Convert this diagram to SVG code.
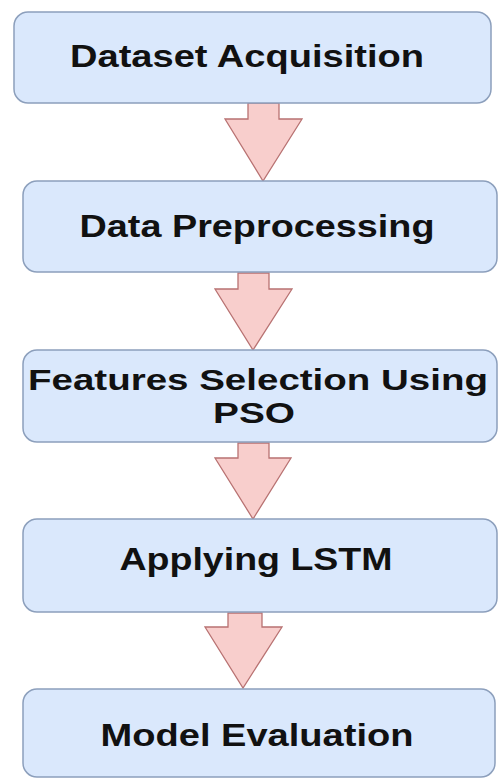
<svg xmlns="http://www.w3.org/2000/svg" width="499" height="779" viewBox="0 0 499 779">
<style>
.box{fill:#dae8fc;stroke:#8c9fbc;stroke-width:1.5}
.arr{fill:#f8cecc;stroke:#b87272;stroke-width:1.3;stroke-linejoin:miter}
.t{font-family:"Liberation Sans",Arial,sans-serif;font-weight:bold;font-size:32px;fill:#111;text-anchor:middle}
.s{font-size:30px}
</style>
<rect width="499" height="779" fill="#ffffff"/>
<g id="connectors">
<path class="arr" d="M248,103 L279,103 L279,119 L302,119 L263,181 L225,119 L248,119 Z"/>
<path class="arr" d="M238,273 L269,273 L269,289 L292,289 L253,350 L215,289 L238,289 Z"/>
<path class="arr" d="M238,443 L269,443 L269,458 L291,458 L253,519 L215,458 L238,458 Z"/>
<path class="arr" d="M228,613 L262,613 L262,627 L282,627 L243,688 L205,627 L228,627 Z"/>
</g>
<g id="n1">
<rect class="box" x="14" y="12" width="477" height="91" rx="14"/>
<text class="t" x="247" y="67" textLength="354" lengthAdjust="spacingAndGlyphs">Dataset Acquisition</text>
</g>
<g id="n2">
<rect class="box" x="23" y="181" width="474" height="91" rx="14"/>
<text class="t" x="257" y="237" textLength="355" lengthAdjust="spacingAndGlyphs">Data Preprocessing</text>
</g>
<g id="n3">
<rect class="box" x="23" y="350" width="474" height="92" rx="14"/>
<text class="t s" x="258" y="390" textLength="460" lengthAdjust="spacingAndGlyphs">Features Selection Using</text>
<text class="t s" x="254" y="423" textLength="82" lengthAdjust="spacingAndGlyphs">PSO</text>
</g>
<g id="n4">
<rect class="box" x="23" y="519" width="474" height="93" rx="14"/>
<text class="t" x="256" y="570" textLength="273" lengthAdjust="spacingAndGlyphs">Applying LSTM</text>
</g>
<g id="n5">
<rect class="box" x="23" y="689" width="472" height="88" rx="14"/>
<text class="t" x="257" y="746" textLength="313" lengthAdjust="spacingAndGlyphs">Model Evaluation</text>
</g>
</svg>
